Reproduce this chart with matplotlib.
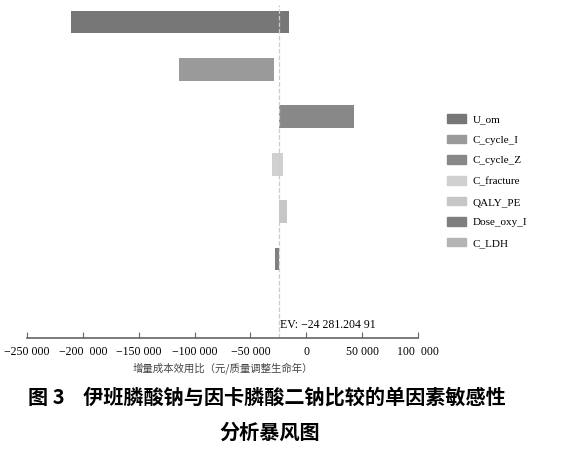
import matplotlib
matplotlib.use("Agg")
import matplotlib.pyplot as plt
from matplotlib.patches import Patch

names = ["U_om", "C_cycle_I", "C_cycle_Z", "C_fracture", "QALY_PE", "Dose_oxy_I", "C_LDH"]
lows = [-211000, -114300, -24281, -30400, -24281, -28400, -24600]
highs = [-15500, -28600, 43000, -20900, -17000, -24500, -24100]
colors = ["#777777", "#9a9a9a", "#888888", "#d0d0d0", "#c6c6c6", "#7f7f7f", "#b4b4b4"]
ev = -24281.20491
xticks = [-250000, -200000, -150000, -100000, -50000, 0, 50000, 100000]
xticklabels = ["−250 000", "−200  000", "−150 000", "−100 000", "−50 000", "0", "50 000", "100  000"]

serif = ["Liberation Serif", "Noto Sans CJK SC"]
cjk = ["Noto Sans CJK SC", "DejaVu Sans"]

fig = plt.figure(figsize=(5.66, 4.49), dpi=100)
ax = fig.add_axes([27/566, 1-338/449, 391/566, 333/449])
for i, (lo, hi, c, n) in enumerate(zip(lows, highs, colors, names)):
    ax.barh(i, hi - lo, left=lo, height=0.48, color=c, label=n)
ax.axvline(ev, color="#cccccc", ls="--", lw=0.9)
ax.set_xlim(-250000, 100000)
ax.set_ylim(6.67, -0.36)
ax.set_yticks([])
for s in ["top", "right", "left"]:
    ax.spines[s].set_visible(False)
ax.spines["bottom"].set_color("#666666")
ax.spines["bottom"].set_linewidth(1.2)
ax.set_xticks(xticks)
ax.set_xticklabels(xticklabels, fontfamily=serif, fontsize=8.5)
ax.tick_params(axis="x", direction="in", length=4, color="#666666", pad=6)
ax.text(ev + 1000, 6.45, "EV: −24 281.204 91", fontfamily=serif, fontsize=8.5)
ax.set_xlabel("增量成本效用比（元/质量调整生命年）", fontfamily=cjk, fontsize=7.5, color="#444444", labelpad=3)

handles = [Patch(color=c, label=n) for c, n in zip(colors, names)]
fig.legend(handles=handles, loc="upper left", bbox_to_anchor=(437/566, 1-104/449), frameon=False,
           prop={"family": serif, "size": 8}, handlelength=1.7, handleheight=0.8, labelspacing=0.95,
           handletextpad=0.6)

fig.text(267/566, 1-397/449, "图 3    伊班膦酸钠与因卡膦酸二钠比较的单因素敏感性", ha="center", va="center",
         fontfamily=cjk, fontsize=14.5, fontweight="bold")
fig.text(270/566, 1-432/449, "分析暴风图", ha="center", va="center", fontfamily=cjk, fontsize=14.5, fontweight="bold")
fig.savefig("out.png", dpi=100)
